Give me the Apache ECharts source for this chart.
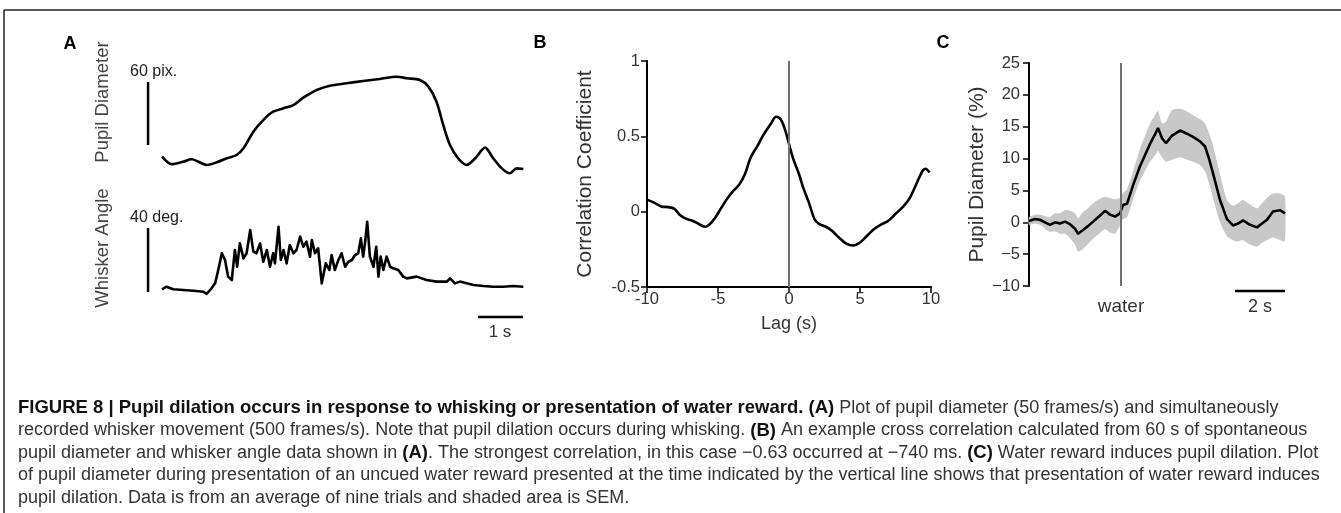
<!DOCTYPE html>
<html><head><meta charset="utf-8">
<script src="https://cdn.jsdelivr.net/npm/echarts@6/dist/echarts.min.js"></script>
<style>html,body{margin:0;padding:0;background:#fff}#c{width:1341px;height:513px}</style>
</head><body><div id="c"></div>
<script>
// ---------- Panel A: pupil diameter (pix) vs time (s) ----------
const pupilTime = [0, 0.22, 0.47, 0.66, 0.81, 0.99, 1.22, 1.44, 1.66, 1.81, 2.03, 2.25, 2.47, 2.70, 2.92, 3.14, 3.44, 3.73, 4.10, 4.47, 4.84, 5.22, 5.44, 5.73, 5.92, 6.10, 6.25, 6.40, 6.58, 6.77, 6.96, 7.18, 7.36, 7.55, 7.73, 7.88, 8.03];
const pupilValue = [12.2, 5.0, 7.4, 9.7, 7.4, 4.3, 6.9, 10.7, 13.8, 20.2, 36.0, 47.1, 55.0, 58.3, 61.4, 68.4, 75.7, 79.8, 82.1, 84.3, 86.2, 88.4, 86.9, 85.2, 78.9, 64.6, 42.4, 23.3, 10.7, 4.3, 10.7, 20.8, 10.7, 1.1, -3.6, 1.1, 0.5];
// ---------- Panel A: whisker angle (deg) vs time (s) ----------
const whiskerTime = [0.00,0.10,0.25,0.47,0.70,0.92,0.99,1.10,1.18,1.25,1.33,1.40,1.47,1.55,1.62,1.67,1.73,1.81,1.88,1.96,2.03,2.10,2.18,2.25,2.33,2.40,2.47,2.51,2.59,2.64,2.70,2.77,2.84,2.92,2.99,3.07,3.14,3.21,3.29,3.33,3.40,3.47,3.55,3.58,3.64,3.72,3.77,3.84,3.92,3.99,4.07,4.14,4.22,4.29,4.36,4.42,4.47,4.51,4.56,4.62,4.70,4.76,4.81,4.86,4.92,4.99,5.07,5.14,5.25,5.36,5.44,5.66,5.88,6.10,6.33,6.40,6.51,6.62,6.77,6.92,7.14,7.36,7.58,7.81,8.03];
const whiskerValue = [1.7,3.3,1.7,1.25,0.8,0.2,-1.25,2.3,5.4,13.75,24.2,20,9.6,7.5,26.25,15.8,30.4,21,24.2,38.75,25.2,24.2,30.4,18.9,26.25,15.8,24.2,17.9,40.8,20,26.25,17.9,29.4,24.2,26.25,34.6,28.3,31.5,22.1,32.5,24.2,27.3,5.4,4.4,17.9,13.75,23.1,13.75,20,24.2,15.8,18.9,20,23.1,24.2,33.5,22.1,30.4,43.9,22.1,15.8,28.3,9.6,22.1,13.75,22.1,15.8,14.8,13.75,9.6,8.5,9.6,7.5,6.5,6.5,8.5,5.4,6.5,5.4,4.4,3.75,3.3,3.3,3.75,3.3];
// scale bars (data units)
const pupilBar = {t: -0.31, from: 23.3, len: 60};      // 60 pix
const whiskerBar = {t: -0.31, from: 0, len: 40};       // 40 deg
const timeBarA = {from: 7.02, len: 1, level: -15.6};   // 1 s
// ---------- Panel B: cross correlation ----------
const lag = [-10,-9.5,-9,-8.5,-8.1,-7.7,-7.3,-6.8,-6.3,-5.9,-5.6,-5.2,-4.8,-4.4,-4.0,-3.5,-3.1,-2.7,-2.2,-1.8,-1.3,-0.9,-0.6,-0.3,0,0.3,0.7,1.0,1.4,1.8,2.1,2.6,3.0,3.5,4.0,4.5,5.0,5.5,6.0,6.5,7.0,7.5,8.0,8.5,9.0,9.4,9.6,9.9];
const corr = [0.08,0.06,0.035,0.03,0.02,-0.02,-0.045,-0.06,-0.085,-0.1,-0.085,-0.04,0.02,0.08,0.13,0.18,0.25,0.36,0.44,0.51,0.58,0.63,0.615,0.55,0.45,0.35,0.25,0.16,0.06,-0.05,-0.08,-0.1,-0.125,-0.17,-0.21,-0.225,-0.205,-0.16,-0.115,-0.085,-0.06,-0.015,0.03,0.09,0.19,0.27,0.285,0.26];
// ---------- Panel C: pupil diameter (%) around water reward ----------
const cTime = [-3.68,-3.44,-3.24,-3.04,-2.84,-2.64,-2.44,-2.24,-2.04,-1.84,-1.72,-1.52,-1.32,-1.12,-0.88,-0.64,-0.44,-0.24,-0.04,0.08,0.24,0.48,0.76,1.16,1.36,1.48,1.64,1.8,2.04,2.36,2.64,2.88,3.16,3.36,3.52,3.68,3.96,4.24,4.48,4.68,4.88,5.16,5.44,5.64,5.84,6.08,6.36,6.56];
const cMean = [0.2,0.5,0.4,0.0,-0.4,0.0,-0.2,0.1,-0.3,-1.0,-1.8,-1.2,-0.6,0.1,0.9,1.8,1.2,0.9,1.4,2.7,2.9,5.8,8.8,12.3,13.8,14.8,13.2,12.4,13.6,14.4,13.9,13.4,12.7,11.9,10.0,7.7,3.5,0.5,-0.5,-0.2,0.3,-0.4,-0.8,-0.2,0.4,1.7,1.9,1.4];
const cLower = [-0.4,-0.2,-0.4,-1.0,-1.5,-1.4,-1.8,-1.8,-2.5,-3.5,-4.6,-4.2,-3.4,-2.6,-1.8,-1.1,-1.6,-1.8,-0.5,0.5,0.8,3.5,6.5,9.5,10.5,11.2,10.2,9.5,9.8,10.2,9.8,9.5,9.0,8.0,6.2,3.8,0.0,-2.2,-2.8,-3.0,-2.8,-3.5,-3.8,-3.2,-2.8,-2.4,-2.8,-3.0];
const cUpper = [0.8,1.2,1.2,1.0,0.8,1.4,1.4,1.9,1.8,1.4,0.6,1.6,2.2,3.0,3.6,4.0,3.8,3.6,3.8,4.6,5.2,8.0,11.5,15.5,16.8,17.5,15.5,15.8,17.6,17.8,17.4,16.8,16.2,15.5,14.0,12.1,7.5,3.5,2.6,3.0,3.5,2.8,2.2,3.0,3.8,4.5,4.5,4.0];
const timeBarC = {from: 4.56, len: 2, level: -10.8};   // 2 s
// ---------- texts ----------
const captionLines = [
 '{b|FIGURE 8 | Pupil dilation occurs in response to whisking or presentation of water reward. (A)}{n| Plot of pupil diameter (50 frames/s) and simultaneously}',
 '{n|recorded whisker movement (500 frames/s). Note that pupil dilation occurs during whisking. }{b|(B)}{n| An example cross correlation calculated from 60 s of spontaneous}',
 '{n|pupil diameter and whisker angle data shown in }{b|(A)}{n|. The strongest correlation, in this case \u22120.63 occurred at \u2212740 ms. }{b|(C)}{n| Water reward induces pupil dilation. Plot}',
 '{n|of pupil diameter during presentation of an uncued water reward presented at the time indicated by the vertical line shows that presentation of water reward induces}',
 '{n|pupil dilation. Data is from an average of nine trials and shaded area is SEM.}'
];

const FONT = 'Liberation Sans, Arial, Helvetica, sans-serif';
const zip = (a, b) => a.map((v, i) => [v, b[i]]);
const chart = echarts.init(document.getElementById('c'), null, {renderer: 'canvas'});

const hiddenAxis = (grid, min, max) => ({type: 'value', gridIndex: grid, min, max, show: false});
const blackLine = w => ({color: '#000', width: w});
const vertMark = (label) => ({
  silent: true, symbol: 'none', animation: false,
  lineStyle: {color: '#707070', width: 2, type: 'solid'},
  label: label ? {show: true, position: 'start', formatter: label, color: '#333', fontSize: 19, fontFamily: FONT, distance: 11} : {show: false},
  data: [{xAxis: 0}]
});
const tickLabel = (margin, fmt) => ({color: '#333', fontSize: 16.5, margin, fontFamily: FONT, formatter: fmt});

const option = {
  animation: false,
  backgroundColor: '#fff',
  textStyle: {fontFamily: FONT},
  grid: [
    {left: 135, top: 70, width: 400, height: 110},
    {left: 135, top: 210, width: 400, height: 110},
    {left: 647, top: 61, width: 284, height: 226},
    {left: 1029, top: 63, width: 261, height: 223}
  ],
  xAxis: [
    hiddenAxis(0, -0.6, 8.2889),
    hiddenAxis(1, -0.6, 8.2889),
    {type: 'value', gridIndex: 2, min: -10, max: 10, interval: 5,
     axisLine: {show: true, onZero: false, lineStyle: blackLine(2)},
     axisTick: {show: true, length: 6, lineStyle: blackLine(1.5)},
     axisLabel: tickLabel(4),
     splitLine: {show: false},
     name: 'Lag (s)', nameLocation: 'middle', nameGap: 28,
     nameTextStyle: {fontSize: 18, color: '#333', fontFamily: FONT}},
    hiddenAxis(3, -3.68, 6.76)
  ],
  yAxis: [
    hiddenAxis(0, -10, 94.76),
    hiddenAxis(1, -17.5, 51.25),
    {type: 'value', gridIndex: 2, min: -0.5, max: 1, interval: 0.5,
     axisLine: {show: true, onZero: false, lineStyle: blackLine(2)},
     axisTick: {show: true, length: 6, lineStyle: blackLine(1.5)},
     axisLabel: tickLabel(7),
     splitLine: {show: false},
     name: 'Correlation Coefficient', nameLocation: 'middle', nameGap: 51,
     nameTextStyle: {fontSize: 21, color: '#333', fontFamily: FONT}},
    {type: 'value', gridIndex: 3, min: -10, max: 25, interval: 5,
     axisLine: {show: true, onZero: false, lineStyle: blackLine(2)},
     axisTick: {show: true, length: 6, lineStyle: blackLine(1.5)},
     axisLabel: tickLabel(9, v => String(v).replace('-', '\u2212')),
     splitLine: {show: false},
     name: 'Pupil Diameter (%)', nameLocation: 'middle', nameGap: 41,
     nameTextStyle: {fontSize: 21, color: '#333', fontFamily: FONT}}
  ],
  series: [
    {type: 'line', xAxisIndex: 0, yAxisIndex: 0, data: zip(pupilTime, pupilValue),
     showSymbol: false, smooth: 0.3, lineStyle: blackLine(2.6)},
    {type: 'line', xAxisIndex: 0, yAxisIndex: 0, clip: false, showSymbol: false,
     data: [[pupilBar.t, pupilBar.from], [pupilBar.t, pupilBar.from + pupilBar.len]], lineStyle: blackLine(2.5)},
    {type: 'line', xAxisIndex: 1, yAxisIndex: 1, data: zip(whiskerTime, whiskerValue),
     showSymbol: false, lineStyle: {color: '#000', width: 2.6, join: 'round'}},
    {type: 'line', xAxisIndex: 1, yAxisIndex: 1, clip: false, showSymbol: false,
     data: [[whiskerBar.t, whiskerBar.from], [whiskerBar.t, whiskerBar.from + whiskerBar.len]], lineStyle: blackLine(2.5)},
    {type: 'line', xAxisIndex: 1, yAxisIndex: 1, clip: false, showSymbol: false,
     data: [[timeBarA.from, timeBarA.level], [timeBarA.from + timeBarA.len, timeBarA.level]], lineStyle: blackLine(2.5)},
    {type: 'line', xAxisIndex: 2, yAxisIndex: 2, data: zip(lag, corr), showSymbol: false,
     smooth: 0.35, lineStyle: blackLine(2.6), z: 3, markLine: vertMark(null)},
    {type: 'custom', xAxisIndex: 3, yAxisIndex: 3, z: 1, silent: true,
     data: cTime.map((t, i) => [t, cLower[i], cUpper[i]]),
     encode: {x: 0, y: [1, 2]},
     renderItem: (params, api) => {
       if (params.dataIndex !== 0) return null;
       const pts = [];
       for (let i = 0; i < cTime.length; i++) pts.push(api.coord([cTime[i], cUpper[i]]));
       for (let i = cTime.length - 1; i >= 0; i--) pts.push(api.coord([cTime[i], cLower[i]]));
       return {type: 'polygon', shape: {points: pts, smooth: 0.2}, style: {fill: '#c8c8c8'}};
     }},
    {type: 'line', xAxisIndex: 3, yAxisIndex: 3, data: zip(cTime, cMean), showSymbol: false,
     lineStyle: blackLine(2.6), z: 3, markLine: vertMark('water')},
    {type: 'line', xAxisIndex: 3, yAxisIndex: 3, clip: false, showSymbol: false,
     data: [[timeBarC.from, timeBarC.level], [timeBarC.from + timeBarC.len, timeBarC.level]], lineStyle: blackLine(2.5)}
  ],
  graphic: [
    {type: 'line', shape: {x1: 4, y1: 10, x2: 1341, y2: 10}, style: {stroke: '#222', lineWidth: 1.5}, silent: true},
    {type: 'line', shape: {x1: 4, y1: 10, x2: 4, y2: 513}, style: {stroke: '#222', lineWidth: 1.5}, silent: true},
    {type: 'text', x: 70, y: 44, style: {text: 'A', font: 'bold 18px ' + FONT, fill: '#000', align: 'center', verticalAlign: 'middle'}},
    {type: 'text', x: 540, y: 43, style: {text: 'B', font: 'bold 18px ' + FONT, fill: '#000', align: 'center', verticalAlign: 'middle'}},
    {type: 'text', x: 943, y: 43, style: {text: 'C', font: 'bold 18px ' + FONT, fill: '#000', align: 'center', verticalAlign: 'middle'}},
    {type: 'text', x: 103, y: 102, rotation: Math.PI / 2, style: {text: 'Pupil Diameter', font: '18.5px ' + FONT, fill: '#444', align: 'center', verticalAlign: 'middle'}},
    {type: 'text', x: 103, y: 248, rotation: Math.PI / 2, style: {text: 'Whisker Angle', font: '18.5px ' + FONT, fill: '#444', align: 'center', verticalAlign: 'middle'}},
    {type: 'text', x: 130, y: 72, style: {text: '60 pix.', font: '16px ' + FONT, fill: '#222', align: 'left', verticalAlign: 'middle'}},
    {type: 'text', x: 130, y: 218, style: {text: '40 deg.', font: '16px ' + FONT, fill: '#222', align: 'left', verticalAlign: 'middle'}},
    {type: 'text', x: 500, y: 332, style: {text: '1 s', font: '17px ' + FONT, fill: '#333', align: 'center', verticalAlign: 'middle'}},
    {type: 'text', x: 1260, y: 307, style: {text: '2 s', font: '18px ' + FONT, fill: '#333', align: 'center', verticalAlign: 'middle'}}
  ].concat(captionLines.map((t, i) => ({
    type: 'text', x: 18, y: 408 + i * 22.5,
    style: {text: t, align: 'left', verticalAlign: 'middle', font: '18px ' + FONT, fill: '#333',
      rich: {b: {fontWeight: 'bold', fontSize: 18.5, fontFamily: FONT, fill: '#111', color: '#111'},
             n: {fontSize: 18, fontFamily: FONT, fill: '#333', color: '#333'}}}
  })))
};
chart.setOption(option);
</script></body></html>
